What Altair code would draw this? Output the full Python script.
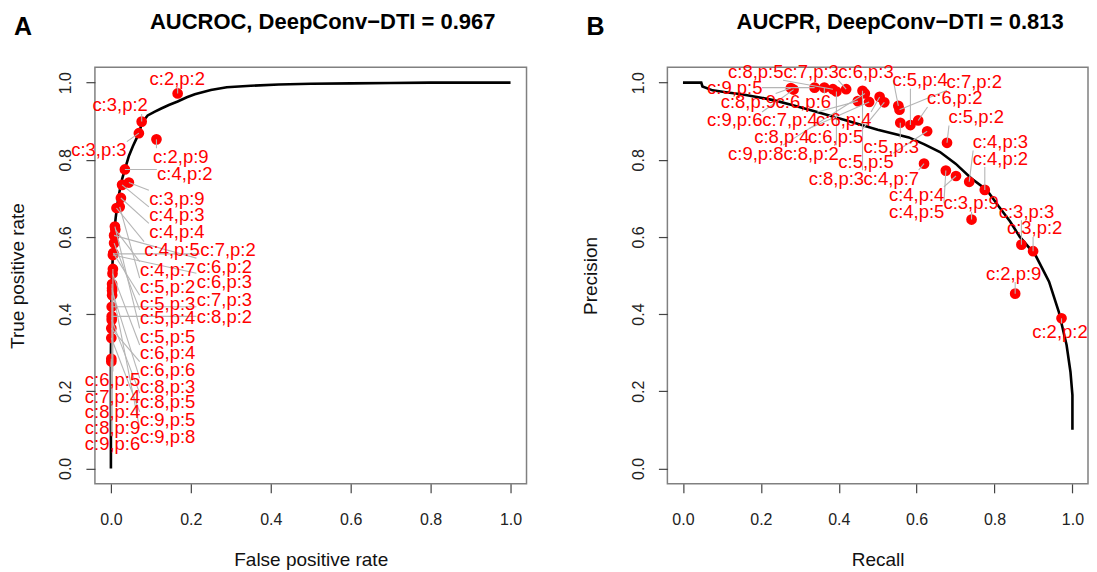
import altair as alt
import pandas as pd

# ---------------- data ----------------
labels = ["c:2,p:2", "c:2,p:9", "c:3,p:2", "c:3,p:3", "c:3,p:9", "c:4,p:2", "c:4,p:3",
          "c:4,p:4", "c:4,p:5", "c:4,p:7", "c:5,p:2", "c:5,p:3", "c:5,p:4", "c:5,p:5",
          "c:6,p:2", "c:6,p:3", "c:6,p:4", "c:6,p:5", "c:6,p:6", "c:7,p:2", "c:7,p:3",
          "c:7,p:4", "c:8,p:2", "c:8,p:3", "c:8,p:4", "c:8,p:5", "c:8,p:9", "c:9,p:5",
          "c:9,p:6", "c:9,p:8"]

recall = [0.972, 0.853, 0.899, 0.869, 0.741, 0.775, 0.735, 0.701, 0.675, 0.619, 0.678,
          0.558, 0.584, 0.627, 0.604, 0.553, 0.505, 0.517, 0.363, 0.556, 0.419, 0.449,
          0.394, 0.461, 0.478, 0.385, 0.277, 0.338, 0.284, 0.467]

fpr = [0.167, 0.114, 0.077, 0.070, 0.045, 0.035, 0.028, 0.025, 0.014, 0.011, 0.022,
       0.006, 0.008, 0.010, 0.008, 0.005, 0.004, 0.005, 0.001, 0.006, 0.002, 0.003,
       0.002, 0.003, 0.003, 0.002, 0.001, 0.001, 0.001, 0.003]

precision = [0.389, 0.453, 0.563, 0.580, 0.645, 0.722, 0.743, 0.758, 0.772, 0.790, 0.844,
             0.896, 0.890, 0.874, 0.902, 0.940, 0.963, 0.949, 0.987, 0.930, 0.983, 0.952,
             0.977, 0.979, 0.950, 0.983, 0.986, 0.987, 0.982, 0.972]

roc_label_x = [0.166, 0.175, 0.023, -0.030, 0.165, 0.185, 0.165, 0.165, 0.153, 0.142, 0.142,
               0.142, 0.142, 0.142, 0.284, 0.284, 0.142, 0.004, 0.142, 0.293, 0.284, 0.004,
               0.284, 0.142, 0.004, 0.142, 0.004, 0.142, 0.004, 0.142]
roc_label_y = [1.010, 0.808, 0.941, 0.825, 0.699, 0.764, 0.656, 0.613, 0.566, 0.514, 0.471,
               0.427, 0.389, 0.341, 0.523, 0.484, 0.298, 0.229, 0.255, 0.566, 0.436, 0.186,
               0.393, 0.212, 0.147, 0.173, 0.104, 0.125, 0.062, 0.082]

pr_label_x = [0.968, 0.849, 0.903, 0.882, 0.740, 0.815, 0.815, 0.600, 0.600, 0.535, 0.753,
              0.535, 0.609, 0.470, 0.698, 0.470, 0.413, 0.392, 0.309, 0.748, 0.329, 0.275,
              0.329, 0.394, 0.254, 0.187, 0.168, 0.133, 0.133, 0.187]
pr_label_y = [0.354, 0.505, 0.622, 0.665, 0.687, 0.803, 0.846, 0.708, 0.665, 0.751, 0.911,
              0.833, 1.006, 0.795, 0.959, 1.028, 0.902, 0.859, 0.950, 1.002, 1.028, 0.902,
              0.816, 0.751, 0.859, 1.028, 0.950, 0.986, 0.902, 0.816]

roc_curve_fpr = [0.0, 0.0, 0.001, 0.003, 0.005, 0.008, 0.012, 0.017, 0.022, 0.028, 0.035,
                 0.045, 0.055, 0.063, 0.070, 0.078, 0.092, 0.110, 0.126, 0.145, 0.167, 0.190,
                 0.210, 0.250, 0.290, 0.350, 0.420, 0.500, 0.600, 0.700, 0.800, 0.900, 1.0]
roc_curve_tpr = [0.0, 0.30, 0.42, 0.50, 0.56, 0.61, 0.65, 0.69, 0.72, 0.75, 0.775,
                 0.81, 0.835, 0.853, 0.868, 0.897, 0.915, 0.925, 0.933, 0.942, 0.951, 0.962,
                 0.970, 0.981, 0.988, 0.992, 0.995, 0.997, 0.998, 0.999, 1.0, 1.0, 1.0]

pr_curve_recall = [0.0, 0.047, 0.050, 0.076, 0.110, 0.150, 0.190, 0.235, 0.280, 0.340,
                   0.420, 0.500, 0.580, 0.620, 0.660, 0.700, 0.740, 0.780, 0.810, 0.840,
                   0.865, 0.905, 0.940, 0.965, 0.985, 0.995, 1.0, 1.0]
pr_curve_precision = [1.0, 1.0, 0.990, 0.980, 0.975, 0.970, 0.963, 0.954, 0.942, 0.925,
                      0.902, 0.878, 0.858, 0.840, 0.820, 0.790, 0.752, 0.722, 0.680, 0.640,
                      0.600, 0.553, 0.484, 0.406, 0.320, 0.250, 0.190, 0.100]

titles = ["AUCROC, DeepConv\u2212DTI = 0.967", "AUCPR, DeepConv\u2212DTI = 0.813"]
letters = ["A", "B"]
tick_values = [0.0, 0.2, 0.4, 0.6, 0.8, 1.0]

# ---------------- styling ----------------
FONT = "Liberation Sans"
HW, HH = 0.07, 0.022   # half size of a label box, data units


def leader_ends(px, py, lx, ly):
    ex = [min(max(a, c - HW), c + HW) for a, c in zip(px, lx)]
    ey = [min(max(b, d - HH), d + HH) for b, d in zip(py, ly)]
    return ex, ey


def make_axis(title, vertical):
    kw = dict(title=title, values=tick_values, format=".1f", grid=False, domain=False,
              tickSize=9, tickColor="#444444", tickWidth=1.2,
              labelFontSize=16, labelFont=FONT, labelColor="#222222",
              titleFontSize=19, titleFont=FONT, titleFontWeight="normal", titleColor="#111111")
    if vertical:
        kw.update(labelAngle=270, labelAlign="center", labelBaseline="bottom",
                  labelPadding=12, titlePadding=30)
    else:
        kw.update(labelPadding=19, titlePadding=23)
    return alt.Axis(**kw)


def panel(cx, cy, px, py, lx, ly, xtitle, ytitle, title, letter, w, h, title_x):
    scale = alt.Scale(domain=[-0.04, 1.04], nice=False, zero=False)
    ax = make_axis(xtitle, False)
    ay = make_axis(ytitle, True)

    curve_df = pd.DataFrame({"x": cx, "y": cy, "i": list(range(len(cx)))})
    ex, ey = leader_ends(px, py, lx, ly)
    pts_df = pd.DataFrame({"label": labels, "x": px, "y": py, "lx": lx, "ly": ly,
                           "ex": ex, "ey": ey})

    curve = alt.Chart(curve_df).mark_line(color="black", strokeWidth=2.6).encode(
        x=alt.X("x:Q", scale=scale, axis=ax),
        y=alt.Y("y:Q", scale=scale, axis=ay),
        order=alt.Order("i:Q"))
    pts = alt.Chart(pts_df).mark_circle(size=115, color="#ff0000", opacity=1).encode(
        x=alt.X("x:Q", scale=scale, axis=ax),
        y=alt.Y("y:Q", scale=scale, axis=ay))
    rules = alt.Chart(pts_df).mark_rule(color="#b5b5b5", strokeWidth=1.1).encode(
        x=alt.X("x:Q", scale=scale, axis=ax), y=alt.Y("y:Q", scale=scale, axis=ay),
        x2="ex:Q", y2="ey:Q")
    texts = alt.Chart(pts_df).mark_text(color="#ff0000", fontSize=18.5, font=FONT,
                                        align="center", baseline="middle").encode(
        x=alt.X("lx:Q", scale=scale, axis=ax),
        y=alt.Y("ly:Q", scale=scale, axis=ay),
        text="label:N")
    head_df = pd.DataFrame({"t": [title]})
    letter_df = pd.DataFrame({"t": [letter]})
    head = alt.Chart(head_df).mark_text(
        fontSize=22, fontWeight="bold", font=FONT, align="center",
        baseline="alphabetic", color="black").encode(
        x=alt.value(title_x), y=alt.value(-38), text="t:N")
    letter_mark = alt.Chart(letter_df).mark_text(
        fontSize=25, fontWeight="bold", font=FONT, align="center",
        baseline="alphabetic", color="black").encode(
        x=alt.value(-72), y=alt.value(-32), text="t:N")

    return alt.layer(curve, pts, rules, texts, head, letter_mark).properties(
        width=w, height=h)


left = panel(roc_curve_fpr, roc_curve_tpr, fpr, recall, roc_label_x, roc_label_y,
             "False positive rate", "True positive rate", titles[0], letters[0], 432, 417, 228)
right = panel(pr_curve_recall, pr_curve_precision, recall, precision, pr_label_x, pr_label_y,
              "Recall", "Precision", titles[1], letters[1], 421, 417, 233)

chart = alt.hconcat(left, right, spacing=53).configure_view(
    stroke="#808080", strokeWidth=1.5).properties(
    padding={"left": 0, "top": 2, "right": 0, "bottom": 0})

chart.save("out.html", embed_options={"renderer": "svg", "actions": False})
